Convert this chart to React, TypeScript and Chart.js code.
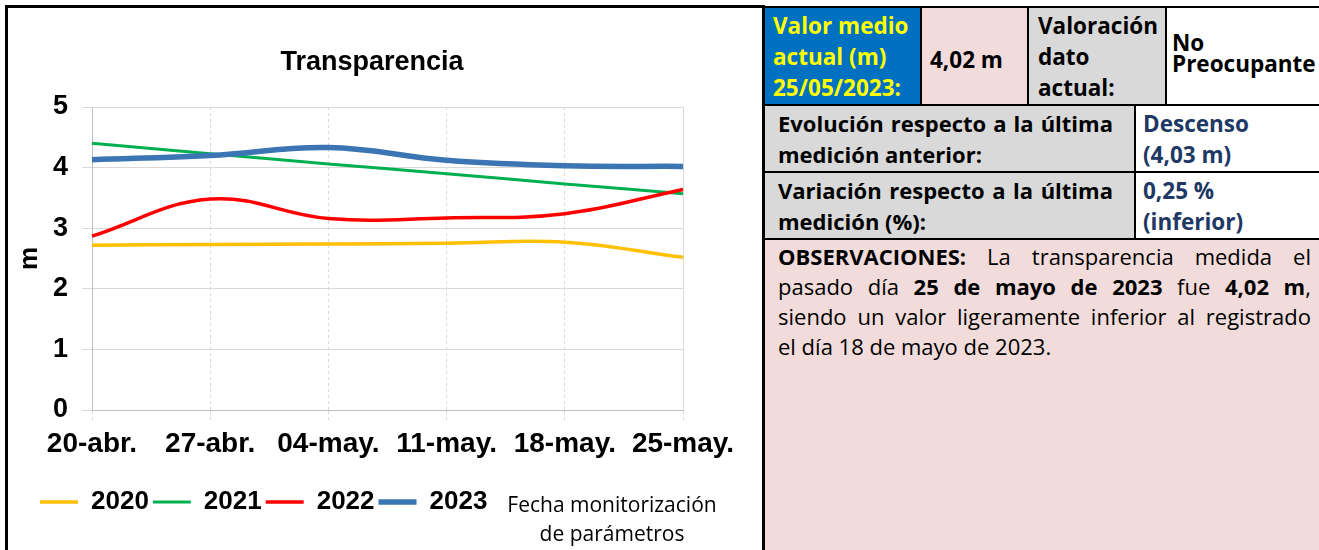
import React, { useEffect, useRef } from 'react';
import { Chart, registerables } from 'chart.js';

Chart.register(...registerables);

// ---------- data ----------
const categories = ['20-abr.', '27-abr.', '04-may.', '11-may.', '18-may.', '25-may.'];
const seriesNames = ['2020', '2021', '2022', '2023'];
const values2020 = [2.72, 2.73, 2.74, 2.75, 2.77, 2.52];
const values2021 = [4.4, 4.23, 4.06, 3.9, 3.73, 3.57];
const values2022 = [2.87, 3.48, 3.16, 3.17, 3.24, 3.64];
const values2023 = [4.13, 4.2, 4.33, 4.12, 4.03, 4.02];
const yMin = 0;
const yMax = 5;
const yStep = 1;
const chartTitle = 'Transparencia';
const yTitle = 'm';
const xTitleLines = ['Fecha monitorización', 'de parámetros'];

const ARIAL = "'Liberation Sans', Arial, sans-serif";
const CAL = "'Open Sans', Lato, sans-serif";

function ChartPanel() {
  const ref = useRef<HTMLCanvasElement | null>(null);
  useEffect(() => {
    if (!ref.current) return;
    const mk = (label: string, data: number[], color: string, width: number) => ({
      label,
      data,
      borderColor: color,
      backgroundColor: color,
      borderWidth: width,
      pointRadius: 0,
      pointHoverRadius: 0,
      tension: 0.4,
      fill: false,
    });
    const chart = new Chart(ref.current, {
      type: 'line',
      data: {
        labels: categories,
        datasets: [
          mk(seriesNames[3], values2023, '#3B75B4', 5.5),
          mk(seriesNames[2], values2022, '#FF0000', 3.5),
          mk(seriesNames[1], values2021, '#00B050', 3),
          mk(seriesNames[0], values2020, '#FFC000', 3.5),
        ],
      },
      options: {
        animation: false,
        responsive: false,
        maintainAspectRatio: false,
        layout: { padding: { left: 28, right: 54, top: 0, bottom: 25 } },
        plugins: {
          title: {
            display: true,
            text: chartTitle,
            color: '#000',
            font: { family: ARIAL, size: 27, weight: 'bold' },
            padding: { top: 38.8, bottom: 27.8 },
          },
          legend: {
            display: true,
            position: 'bottom',
            align: 'start',
            reverse: true,
            labels: {
              usePointStyle: true,
              pointStyle: 'line',
              pointStyleWidth: 38,
              padding: 4,
              color: '#000',
              font: { family: ARIAL, size: 26, weight: 'bold' },
            },
          },
          tooltip: { enabled: false },
        },
        scales: {
          x: {
            type: 'category',
            offset: false,
            grid: {
              color: '#D9D9D9',
              tickColor: '#D9D9D9',
              tickLength: 10,
              tickBorderDash: [3, 3],
            },
            border: {
              display: true,
              color: '#BFBFBF',
              dash: (ctx: any) => (ctx.index === categories.length - 1 ? [] : [3, 3]),
            },
            ticks: {
              color: '#000',
              padding: 7,
              maxRotation: 0,
              autoSkip: false,
              font: { family: ARIAL, size: 28, weight: 'bold' },
            },
            afterFit: (s: any) => {
              s.height = 75;
            },
          },
          y: {
            min: yMin,
            max: yMax,
            grid: { color: '#D9D9D9', tickColor: '#D9D9D9', tickLength: 10 },
            border: { display: true, color: '#BFBFBF' },
            ticks: {
              stepSize: yStep,
              color: '#000',
              padding: 14,
              font: { family: ARIAL, size: 27, weight: 'bold' },
            },
            title: {
              display: true,
              text: yTitle,
              color: '#000',
              font: { family: ARIAL, size: 26, weight: 'bold' },
              padding: { top: -21.6, bottom: 0 },
            },
            afterFit: (s: any) => {
              s.width = 56;
            },
          },
          y2: {
            position: 'right',
            display: true,
            grid: { display: false, drawTicks: false },
            border: { display: false },
            ticks: { display: false },
            afterFit: (s: any) => {
              s.width = 25;
            },
          },
        },
      } as any,
    });
    return () => chart.destroy();
  }, []);
  return (
    <canvas
      ref={ref}
      width={754}
      height={542}
      style={{ position: 'absolute', left: 8, top: 8, width: 754, height: 542, display: 'block' }}
    />
  );
}

function Justified({ words, style }: { words: React.ReactNode[]; style?: React.CSSProperties }) {
  return (
    <div style={{ display: 'flex', justifyContent: 'space-between', whiteSpace: 'nowrap', ...style }}>
      {words.map((w, i) => (
        <span key={i}>{w}</span>
      ))}
    </div>
  );
}

const B = ({ children }: { children: React.ReactNode }) => <span style={{ fontWeight: 700 }}>{children}</span>;

function Cell(props: {
  x1: number;
  x2: number;
  y1: number;
  y2: number;
  bg: string;
  style?: React.CSSProperties;
  children?: React.ReactNode;
}) {
  const { x1, x2, y1, y2, bg, style, children } = props;
  return (
    <div
      style={{
        position: 'absolute',
        left: x1,
        top: y1,
        width: x2 - x1,
        height: y2 - y1,
        background: bg,
        boxSizing: 'border-box',
        display: 'flex',
        flexDirection: 'column',
        justifyContent: 'center',
        fontFamily: CAL,
        fontSize: 22.5,
        lineHeight: '31px',
        fontWeight: 700,
        color: '#000',
        overflow: 'hidden',
        whiteSpace: 'nowrap',
        ...style,
      }}
    >
      {children}
    </div>
  );
}

const HL = ({ x1, x2, y, t = 2 }: { x1: number; x2: number; y: number; t?: number }) => (
  <div style={{ position: 'absolute', left: x1, top: y - t / 2, width: x2 - x1, height: t, background: '#000' }} />
);
const VL = ({ x, y1, y2, t = 2 }: { x: number; y1: number; y2: number; t?: number }) => (
  <div style={{ position: 'absolute', left: x - t / 2, top: y1, width: t, height: y2 - y1, background: '#000' }} />
);

export default function App() {
  const pink = '#F2DCDB';
  const grey = '#D9D9D9';
  const navy = '#203864';
  return (
    <div
      style={{
        position: 'absolute',
        left: 0,
        top: 0,
        width: 1319,
        height: 550,
        overflow: 'hidden',
        background: '#fff',
      }}
    >
      {/* chart panel */}
      <div
        style={{
          position: 'absolute',
          left: 5,
          top: 5,
          width: 760,
          height: 560,
          borderLeft: '3px solid #000',
          borderTop: '3px solid #000',
          boxSizing: 'border-box',
        }}
      />
      <ChartPanel />
      <div
        style={{
          position: 'absolute',
          left: 500,
          top: 490,
          width: 224,
          textAlign: 'center',
          fontFamily: CAL,
          fontSize: 21,
          lineHeight: '29px',
          color: '#000',
          whiteSpace: 'nowrap',
        }}
      >
        {xTitleLines.map((l, i) => (
          <div key={i}>{l}</div>
        ))}
      </div>

      {/* table */}
      <Cell x1={763} x2={921} y1={7} y2={105} bg="#0070C0" style={{ color: '#FFFF00', paddingLeft: 10 }}>
        <div>Valor medio</div>
        <div>actual (m)</div>
        <div>25/05/2023:</div>
      </Cell>
      <Cell x1={921} x2={1028} y1={7} y2={105} bg={pink} style={{ paddingLeft: 9, paddingTop: 6 }}>
        <div>4,02 m</div>
      </Cell>
      <Cell x1={1028} x2={1166} y1={7} y2={105} bg={grey} style={{ paddingLeft: 10 }}>
        <div>Valoración</div>
        <div>dato</div>
        <div>actual:</div>
      </Cell>
      <Cell x1={1166} x2={1319} y1={7} y2={105} bg="#fff" style={{ paddingLeft: 6, paddingBottom: 7, lineHeight: '21px' }}>
        <div>No</div>
        <div>Preocupante</div>
      </Cell>

      <Cell x1={763} x2={1135} y1={105} y2={172} bg={grey} style={{ paddingLeft: 15, paddingRight: 22, fontSize: 22 }}>
        <Justified words={['Evolución', 'respecto', 'a', 'la', 'última']} />
        <div>medición anterior:</div>
      </Cell>
      <Cell x1={1135} x2={1319} y1={105} y2={172} bg="#fff" style={{ paddingLeft: 8, color: navy }}>
        <div>Descenso</div>
        <div>(4,03 m)</div>
      </Cell>

      <Cell x1={763} x2={1135} y1={172} y2={239} bg={grey} style={{ paddingLeft: 15, paddingRight: 22, fontSize: 22 }}>
        <Justified words={['Variación', 'respecto', 'a', 'la', 'última']} />
        <div>medición (%):</div>
      </Cell>
      <Cell x1={1135} x2={1319} y1={172} y2={239} bg="#fff" style={{ paddingLeft: 8, color: navy }}>
        <div>0,25 %</div>
        <div>(inferior)</div>
      </Cell>

      <Cell
        x1={763}
        x2={1319}
        y1={239}
        y2={560}
        bg={pink}
        style={{
          justifyContent: 'flex-start',
          paddingLeft: 15,
          paddingRight: 8,
          paddingTop: 2,
          fontWeight: 400,
          fontSize: 22,
          lineHeight: '30px',
        }}
      >
        <Justified words={[<B>OBSERVACIONES:</B>, 'La', 'transparencia', 'medida', 'el']} />
        <Justified
          words={[
            'pasado',
            'día',
            <B>25</B>,
            <B>de</B>,
            <B>mayo</B>,
            <B>de</B>,
            <B>2023</B>,
            'fue',
            <B>4,02</B>,
            <>
              <B>m</B>,
            </>,
          ]}
        />
        <Justified words={['siendo', 'un', 'valor', 'ligeramente', 'inferior', 'al', 'registrado']} />
        <div>el día 18 de mayo de 2023.</div>
      </Cell>

      {/* borders */}
      <HL x1={762} x2={1319} y={7} />
      <HL x1={762} x2={1319} y={105} />
      <HL x1={762} x2={1319} y={172} />
      <HL x1={762} x2={1319} y={239} />
      <VL x={763} y1={6} y2={550} t={3} />
      <VL x={921} y1={7} y2={105} />
      <VL x={1028} y1={7} y2={105} />
      <VL x={1166} y1={7} y2={105} />
      <VL x={1135} y1={105} y2={239} />
    </div>
  );
}
